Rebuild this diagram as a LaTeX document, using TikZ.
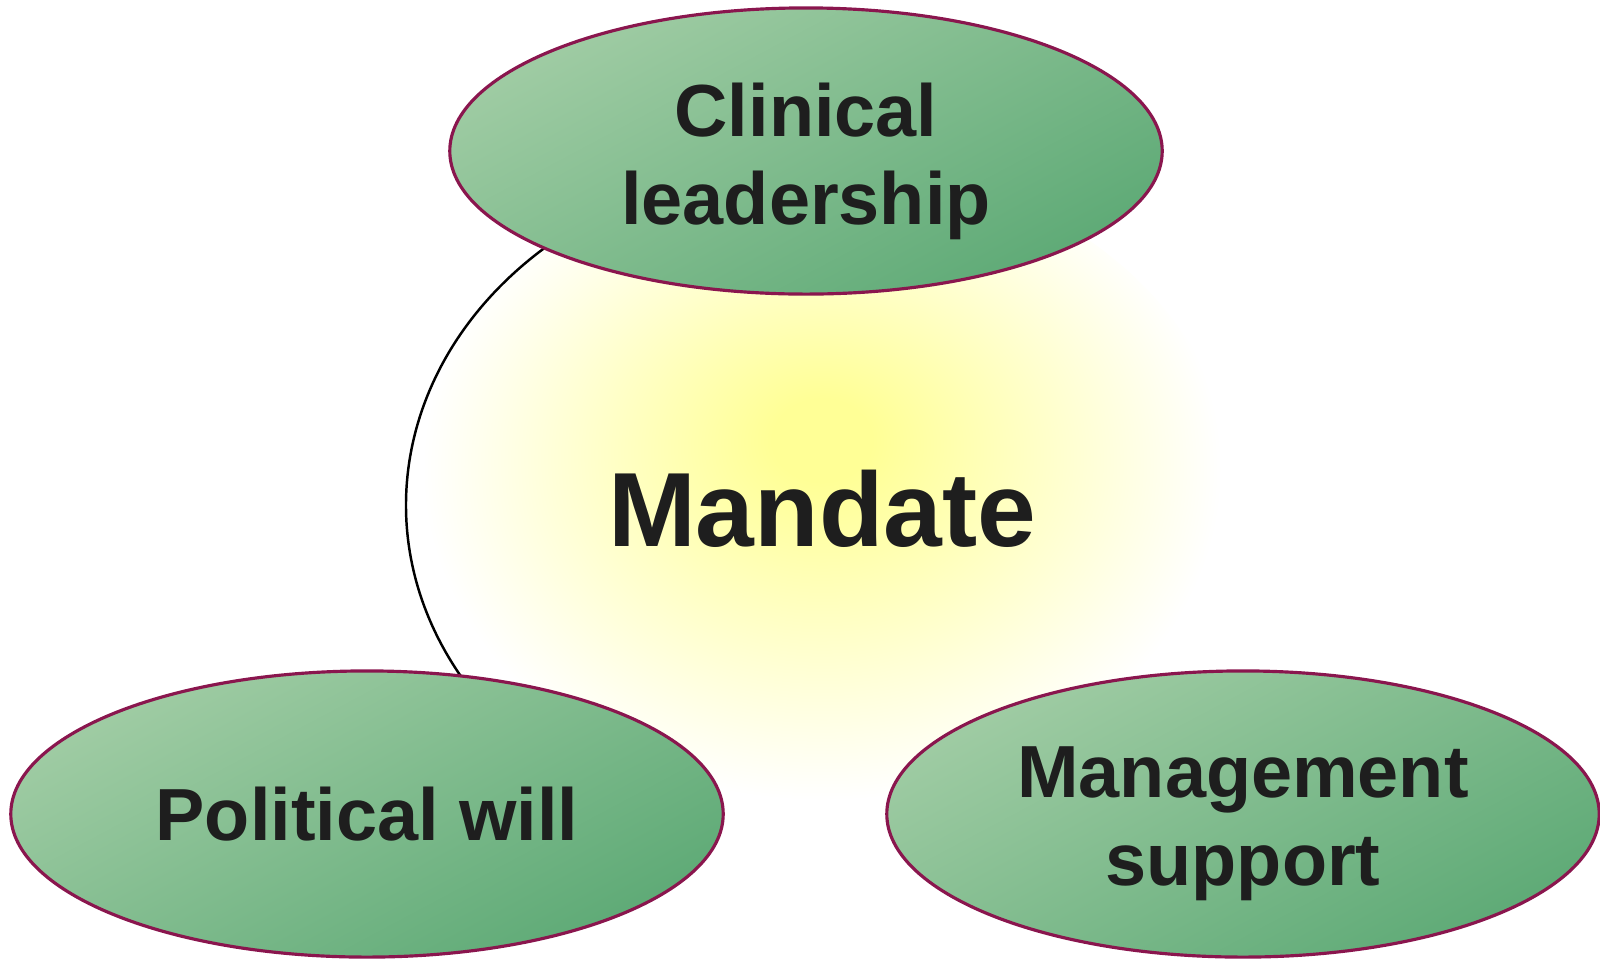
\documentclass[tikz,border=0pt]{standalone}
\usepackage{fontspec}
\setmainfont{Liberation Sans}
\usepackage{tikz}
\usetikzlibrary{shapes, positioning, calc}

\definecolor{ellLight}{RGB}{160,204,164}
\definecolor{ellDark}{RGB}{94,170,118}
\definecolor{ellBorder}{RGB}{138,22,78}
\definecolor{glowYellow}{RGB}{255,255,150}
\definecolor{txtDark}{RGB}{30,30,30}
\pgfdeclareradialshading{mandateglow}{\pgfpoint{0bp}{5bp}}{color(0bp)=(glowYellow); color(3bp)=(glowYellow); color(24bp)=(white); color(50bp)=(white)}

\begin{document}
\begin{tikzpicture}[x=0.01cm, y=0.01cm,
  pillar/.style={ellipse, draw=ellBorder, line width=0.9pt, inner sep=0pt,
    minimum width=7.12cm, minimum height=2.86cm,
    top color=ellLight, bottom color=ellDark, shading angle=28,
    text=txtDark, font=\fontsize{21}{25}\selectfont\bfseries, align=center},
  bigword/.style={text=txtDark, font=\fontsize{30}{36}\selectfont\bfseries, inner sep=0pt}]
\useasboundingbox (0,0) rectangle (1600,959);

% the mandate in the middle
\node [ellipse, minimum width=8.32cm, minimum height=6.9cm, inner sep=0pt, shading=mandateglow] (glow) at (822,454) {};
\draw [black, line width=0.7pt] (glow.center) ++(128:416 and 345) arc (128:212:416 and 345);
\node [bigword, anchor=base] (mandate) at (822,413) {Mandate};

% the three pillars
\node [pillar, text depth=0pt] (clinical) at (806,808) {};
\node [pillar] (political) at (367,145) {Political will};
\node [pillar] (management) at (1243,145) {};
\node [text=txtDark, font=\fontsize{21}{25}\selectfont\bfseries, align=center, yshift=-0.1cm] (clinicaltxt) at (clinical) {Clinical\\leadership};
\node [text=txtDark, font=\fontsize{21}{25}\selectfont\bfseries, align=center, yshift=-0.1cm] (managementtxt) at (management) {Management\\support};
\end{tikzpicture}
\end{document}
